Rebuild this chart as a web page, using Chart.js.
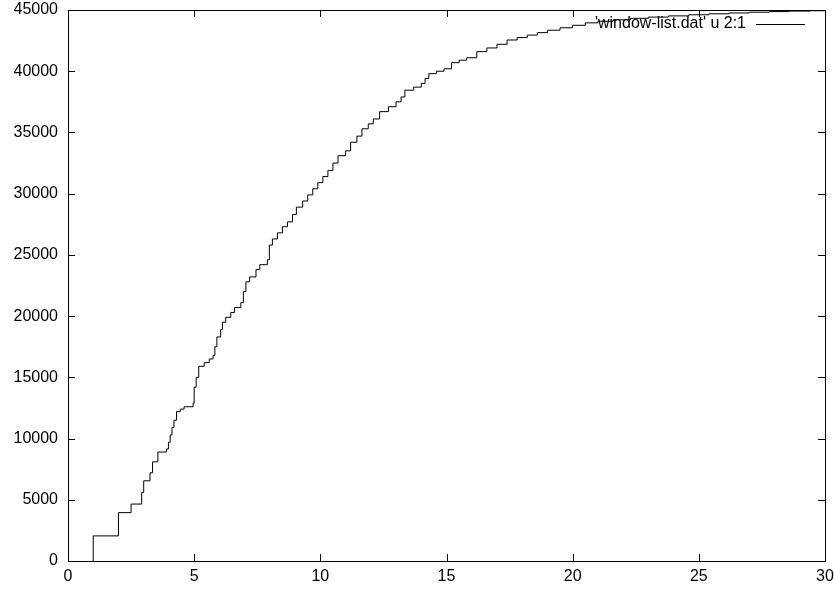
<!DOCTYPE html>
<html>
<head>
<meta charset="utf-8">
<script src="https://cdn.jsdelivr.net/npm/chart.js@4.4.0/dist/chart.umd.min.js"></script>
<style>
  html, body { margin: 0; padding: 0; background: #fff; }
  #wrap { width: 834px; height: 590px; }
</style>
</head>
<body>
<div id="wrap"><canvas id="plot" width="834" height="590"></canvas></div>
<script>
// column 2 (x) and column 1 (y) of window-list.dat
var xValues = [1.0, 1.0, 2.0, 2.5, 2.92, 3.0, 3.25, 3.35, 3.56, 3.9, 3.98, 4.05, 4.12, 4.2, 4.3, 4.45, 4.6, 4.96,
    5.0, 5.08, 5.18, 5.4, 5.6, 5.75, 5.82, 5.9, 6.05, 6.12, 6.25, 6.45, 6.6, 6.85, 6.95, 7.05, 7.2, 7.45, 7.6, 7.9,
    7.98, 8.1, 8.3, 8.5, 8.7, 8.9, 9.05, 9.3, 9.5, 9.7, 9.9, 10.1, 10.3, 10.5, 10.7, 11.0, 11.2, 11.45, 11.65, 11.9,
    12.1, 12.35, 12.7, 13.0, 13.2, 13.35, 13.7, 14.0, 14.15, 14.3, 14.6, 14.9, 15.2, 15.5, 15.8, 16.2, 16.6, 17.0,
    17.4, 17.8, 18.2, 18.6, 19.0, 19.5, 20.0, 20.5, 21.0, 21.6, 22.3, 23.0, 23.8, 24.6, 25.4, 26.2, 27.0, 27.8,
    28.6, 29.4, 30.0];
var yValues = [0, 2050, 3950, 4650, 5600, 6550, 7200, 8100, 8900, 9150, 9700, 10300, 10900, 11500, 12200, 12400, 12600, 12900,
    14200, 15000, 15900, 16200, 16500, 16800, 17500, 18300, 18900, 19500, 19900, 20300, 20700, 21100, 22000, 22800, 23200, 23800, 24200, 24600,
    25800, 26300, 26800, 27300, 27700, 28300, 28900, 29400, 29900, 30400, 30900, 31400, 31900, 32500, 33100, 33500, 34200, 34700, 35300, 35700,
    36100, 36700, 37100, 37500, 37900, 38450, 38700, 39000, 39400, 39800, 40000, 40200, 40700, 40900, 41100, 41600, 41900, 42200,
    42550, 42750, 42950, 43150, 43350, 43550, 43750, 43950, 44080, 44200, 44320, 44420, 44520, 44610, 44690, 44760, 44820, 44870,
    44910, 44940, 44960];
var xTicks = [0, 5, 10, 15, 20, 25, 30];
var yTicks = [0, 5000, 10000, 15000, 20000, 25000, 30000, 35000, 40000, 45000];
var seriesLabel = "'window-list.dat' u 2:1";

var points = [];
for (var i = 0; i < xValues.length; i++) {
    points.push({x: xValues[i], y: yValues[i]});
}

var FONT = '"Liberation Sans", Arial, sans-serif';

// gnuplot style frame, inward ticks on all four sides, key at top right
var gnuplotFrame = {
    id: 'gnuplotFrame',
    afterDraw: function(chart) {
        var c = chart.ctx, a = chart.chartArea;
        var xs = chart.scales.x, ys = chart.scales.y;
        var tl = 7;
        c.save();
        c.strokeStyle = '#000';
        c.lineWidth = 1;
        c.beginPath();
        xTicks.forEach(function(v) {
            var px = Math.round(xs.getPixelForValue(v)) + 0.5;
            c.moveTo(px, a.bottom); c.lineTo(px, a.bottom - tl);
            c.moveTo(px, a.top); c.lineTo(px, a.top + tl);
        });
        yTicks.forEach(function(v) {
            var py = Math.round(ys.getPixelForValue(v)) + 0.5;
            c.moveTo(a.left, py); c.lineTo(a.left + tl, py);
            c.moveTo(a.right, py); c.lineTo(a.right - tl, py);
        });
        c.stroke();
        c.strokeRect(Math.round(a.left) + 0.5, Math.round(a.top) + 0.5,
            Math.round(a.right - a.left), Math.round(a.bottom - a.top));

        // key
        c.fillStyle = '#000';
        c.font = '16px ' + FONT;
        c.textAlign = 'right';
        c.textBaseline = 'middle';
        c.fillText(seriesLabel, 746, 24);
        c.beginPath();
        c.moveTo(756, 24.5); c.lineTo(805, 24.5);
        c.stroke();
        c.restore();
    }
};

new Chart(document.getElementById('plot'), {
    type: 'line',
    data: {
        datasets: [{
            label: seriesLabel,
            data: points,
            stepped: 'before',
            borderColor: '#000',
            borderWidth: 1,
            pointRadius: 0,
            fill: false
        }]
    },
    options: {
        responsive: false,
        animation: false,
        layout: { padding: { top: 10, right: 9, left: 0, bottom: 0 } },
        plugins: { legend: { display: false }, tooltip: { enabled: false } },
        scales: {
            x: {
                type: 'linear',
                min: 0, max: 30,
                afterBuildTicks: function(s) { s.ticks = xTicks.map(function(v) { return {value: v}; }); },
                afterFit: function(s) { s.height = 29; s.paddingLeft = 0; s.paddingRight = 0; },
                grid: { display: false, drawTicks: false },
                border: { display: false },
                ticks: { color: '#000', font: { family: FONT, size: 16 }, padding: 6, maxRotation: 0 }
            },
            y: {
                type: 'linear',
                min: 0, max: 45000,
                afterBuildTicks: function(s) { s.ticks = yTicks.map(function(v) { return {value: v}; }); },
                afterFit: function(s) { s.width = 68; s.paddingTop = 0; s.paddingBottom = 0; },
                grid: { display: false, drawTicks: false },
                border: { display: false },
                ticks: { color: '#000', font: { family: FONT, size: 16 }, padding: 10,
                    callback: function(v) { return String(v); } }
            }
        }
    },
    plugins: [gnuplotFrame]
});
</script>
</body>
</html>
